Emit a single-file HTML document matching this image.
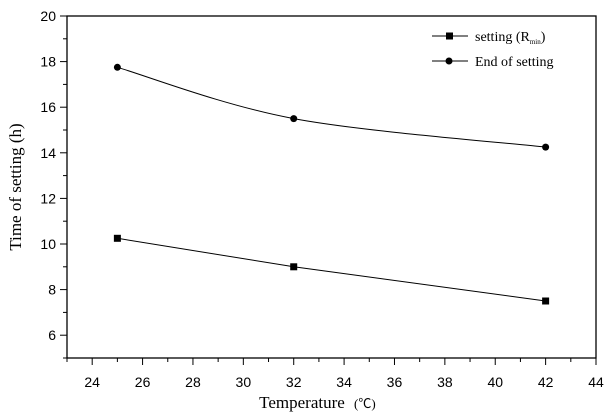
<!DOCTYPE html>
<html><head><meta charset="utf-8"><style>
body{margin:0;background:#fff}
svg{display:block;font-family:"Liberation Sans",sans-serif}
</style></head><body>
<svg id="c" width="607" height="415" viewBox="0 0 607 415" xmlns="http://www.w3.org/2000/svg"></svg>
<script>
const temps=[25,32,42];
const settingVals=[10.25,9.0,7.5];
const endVals=[17.75,15.5,14.25];
const xTicks=[24,26,28,30,32,34,36,38,40,42,44];
const yTicks=[6,8,10,12,14,16,18,20];
const L=67,R=596,T=16,B=358,x0=23,x1=44,y0=5,y1=20;
const X=v=>L+(v-x0)/(x1-x0)*(R-L);
const Y=v=>B-(v-y0)/(y1-y0)*(B-T);
const s=document.getElementById('c'),NS='http://www.w3.org/2000/svg';
function mk(t,a,txt){const e=document.createElementNS(NS,t);for(const k in a)e.setAttribute(k,a[k]);if(txt!==undefined)e.textContent=txt;s.appendChild(e);return e;}
let e=mk('rect',{x:L,y:T,width:R-L,height:B-T,fill:'none',stroke:'#000','stroke-width':1.3});

for(let v=23;v<=44;v++){const big=v%2===0;e=mk('line',{x1:X(v),x2:X(v),y1:B,y2:B+(big?7:4),stroke:'#000'});
}
xTicks.forEach(v=>{e=mk('text',{x:X(v),y:B+29,'text-anchor':'middle','font-size':14},v);
});
for(let v=5;v<=20;v++){const big=v%2===0;e=mk('line',{x1:L,x2:L-(big?7:4),y1:Y(v),y2:Y(v),stroke:'#000'});
}
yTicks.forEach(v=>{e=mk('text',{x:L-11,y:Y(v)+5,'text-anchor':'end','font-size':14},v);
});
e=mk('text',{x:302,y:408,'text-anchor':'middle','font-size':17,'font-family':'Liberation Serif, serif'},'Temperature');

e=mk('text',{x:354,y:408,'font-size':13,'font-family':'Liberation Serif, Noto Sans CJK SC, serif'},'(℃)');

e=mk('text',{x:21,y:187,'text-anchor':'middle','font-size':17,'font-family':'Liberation Serif, serif',transform:'rotate(-90 21 187)'},'Time of setting (h)');

let p=temps.map((t,i)=>X(t)+','+Y(settingVals[i])).join(' ');
e=mk('polyline',{points:p,fill:'none',stroke:'#000','stroke-width':1});

const pts=temps.map((t,i)=>[X(t),Y(endVals[i])]);
let d='M'+pts[0];
for(let i=0;i<pts.length-1;i++){const p0=pts[Math.max(0,i-1)],p1=pts[i],p2=pts[i+1],p3=pts[Math.min(pts.length-1,i+2)];
const c1=[p1[0]+(p2[0]-p0[0])/6,p1[1]+(p2[1]-p0[1])/6],c2=[p2[0]-(p3[0]-p1[0])/6,p2[1]-(p3[1]-p1[1])/6];
d+=' C'+c1+' '+c2+' '+p2;}
e=mk('path',{d:d,fill:'none',stroke:'#000','stroke-width':1});

temps.forEach((t,i)=>{e=mk('rect',{x:X(t)-3.5,y:Y(settingVals[i])-3.5,width:7,height:7,fill:'#000'});

e=mk('circle',{cx:X(t),cy:Y(endVals[i]),r:3.5,fill:'#000'});
});
e=mk('line',{x1:432,x2:468,y1:36,y2:36,stroke:'#000'});
e=mk('rect',{x:446,y:32.5,width:7,height:7,fill:'#000'});
e=mk('text',{x:475,y:41,'font-size':14,'font-family':'Liberation Serif, serif'});
e.innerHTML='setting (R<tspan font-size="7" dy="3">min</tspan><tspan dy="-3">)</tspan>';

e=mk('line',{x1:432,x2:468,y1:61,y2:61,stroke:'#000'});
e=mk('circle',{cx:449,cy:61,r:3.5,fill:'#000'});
e=mk('text',{x:475,y:66,'font-size':14,'font-family':'Liberation Serif, serif'},'End of setting');
</script>
</body></html>
